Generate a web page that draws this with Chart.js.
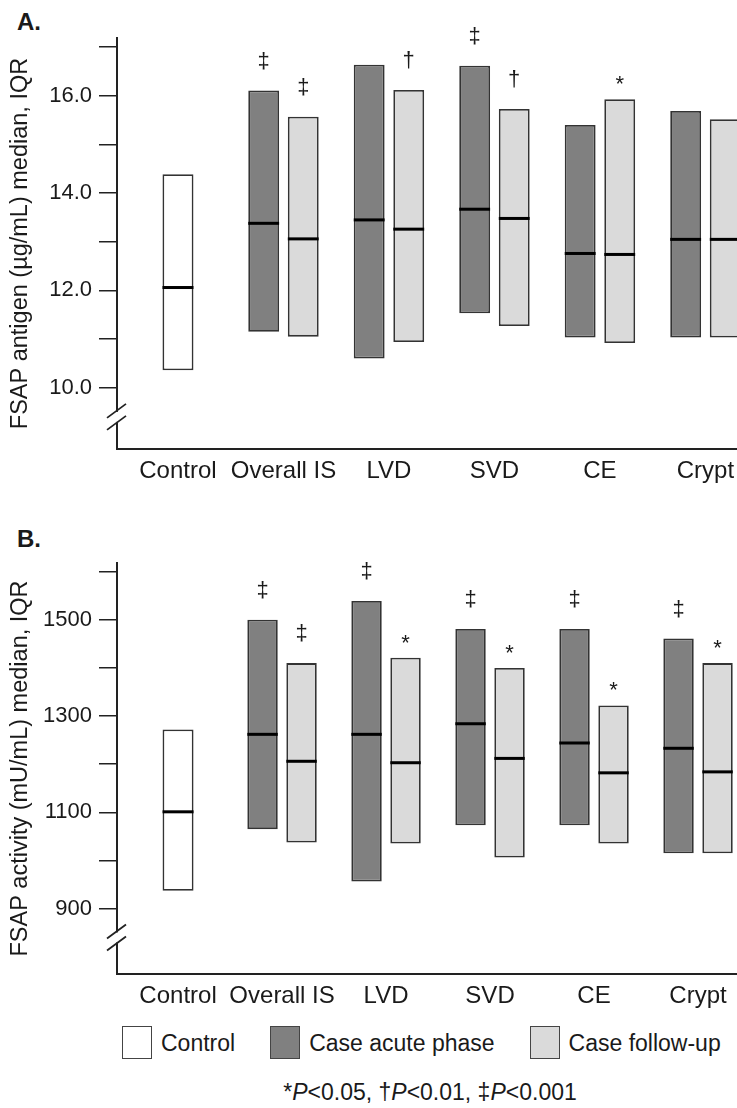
<!DOCTYPE html>
<html>
<head>
<meta charset="utf-8">
<title>FSAP antigen and activity</title>
<script src="https://cdn.jsdelivr.net/npm/chart.js@4.4.1/dist/chart.umd.min.js"></script>
<style>
  html, body { margin: 0; padding: 0; background: #fff; }
  #page { position: relative; width: 737px; height: 1108px; overflow: hidden;
          font-family: "Liberation Sans", Arial, sans-serif; color: #1a1a1a; }
  /* canvases run a little past the right edge: the source figure is cropped there */
  .panel { position: absolute; left: 0; width: 770px; height: 500px; }
  .tag { position: absolute; left: 17px; font-weight: bold; font-size: 24px; line-height: 24px; }
  #legend { position: absolute; left: 122px; top: 1026px; display: flex; align-items: center;
            font-size: 23px; line-height: 32px; white-space: nowrap; width: 640px; }
  #legend .item { display: flex; align-items: center; margin-right: 35px; }
  #legend .box { width: 28px; height: 31px; border: 1.5px solid #444; margin-right: 9px; }
  #note { position: absolute; left: 120px; width: 620px; top: 1081px; text-align: center;
          font-size: 23px; line-height: 23px; white-space: nowrap; }
</style>
</head>
<body>
<div id="page">
  <div class="tag" style="top:10px">A.</div>
  <div class="panel" style="top:0"><canvas id="chartA"></canvas></div>
  <div class="tag" style="top:527px">B.</div>
  <div class="panel" style="top:525px"><canvas id="chartB"></canvas></div>
  <div id="legend"></div>
  <div id="note">*<i>P</i>&lt;0.05, †<i>P</i>&lt;0.01, ‡<i>P</i>&lt;0.001</div>
</div>
<script>
const categories = ['Control', 'Overall IS', 'LVD', 'SVD', 'CE', 'Crypt'];
const seriesNames = ['Control', 'Case acute phase', 'Case follow-up'];
const seriesColors = ['#ffffff', '#808080', '#dadada'];

// A. FSAP antigen (µg/mL): 25th pct, median, 75th pct per category
const antigenControlQ1  = [10.36, null, null, null, null, null];
const antigenControlMed = [12.06, null, null, null, null, null];
const antigenControlQ3  = [14.39, null, null, null, null, null];
const antigenAcuteQ1    = [null, 11.15, 10.60, 11.53, 11.03, 11.03];
const antigenAcuteMed   = [null, 13.38, 13.45, 13.67, 12.76, 13.05];
const antigenAcuteQ3    = [null, 16.11, 16.64, 16.62, 15.40, 15.69];
const antigenFollowQ1   = [null, 11.05, 10.94, 11.27, 10.92, 11.03];
const antigenFollowMed  = [null, 13.06, 13.26, 13.48, 12.74, 13.05];
const antigenFollowQ3   = [null, 15.57, 16.12, 15.73, 15.93, 15.52];
const antigenAcuteSig   = ['', '‡', '', '‡', '', ''];
const antigenFollowSig  = ['', '‡', '†', '†', '*', ''];
const antigenTicks      = [10, 11, 12, 13, 14, 15, 16, 17];
const antigenTickLabels = ['10.0', '', '12.0', '', '14.0', '', '16.0', ''];

// B. FSAP activity (mU/mL)
const activityControlQ1  = [937, null, null, null, null, null];
const activityControlMed = [1101, null, null, null, null, null];
const activityControlQ3  = [1272, null, null, null, null, null];
const activityAcuteQ1    = [null, 1065, 956, 1073, 1073, 1015];
const activityAcuteMed   = [null, 1262, 1262, 1284, 1244, 1233];
const activityAcuteQ3    = [null, 1500, 1539, 1481, 1481, 1461];
const activityFollowQ1   = [null, 1037, 1035, 1006, 1035, 1015];
const activityFollowMed  = [null, 1206, 1203, 1212, 1182, 1184];
const activityFollowQ3   = [null, 1410, 1421, 1400, 1322, 1410];
const activityAcuteSig   = ['', '‡', '‡', '‡', '‡', '‡'];
const activityFollowSig  = ['', '‡', '*', '*', '*', '*'];
const activityTicks      = [900, 1000, 1100, 1200, 1300, 1400, 1500, 1600];
const activityTickLabels = ['900', '', '1100', '', '1300', '', '1500', ''];

Chart.defaults.font.family = '"Liberation Sans", Arial, sans-serif';
Chart.defaults.color = '#1a1a1a';

function makeSet(idx, q1, med, q3, sig) {
    return {
        label: seriesNames[idx],
        data: categories.map((c, i) => ({ x: i, y: q1[i] === null ? null : [q1[i], q3[i]] })),
        medians: med,
        tops: q3,
        marks: sig,
        backgroundColor: seriesColors[idx],
        borderColor: '#333',
        borderWidth: 1.8,
        borderSkipped: false,
        skipNull: true,
        categoryPercentage: 0.75,
        barPercentage: 0.78,
        maxBarThickness: 31
    };
}

// median bars + significance symbols above the boxes
const boxExtras = {
    id: 'boxExtras',
    afterDatasetsDraw(chart) {
        const ctx = chart.ctx;
        const y = chart.scales.y;
        ctx.save();
        chart.data.datasets.forEach((ds, d) => {
            const meta = chart.getDatasetMeta(d);
            meta.data.forEach((el, i) => {
                if (ds.medians[i] === null) return;
                const ym = y.getPixelForValue(ds.medians[i]);
                ctx.fillStyle = '#000';
                ctx.fillRect(el.x - el.width / 2, ym - 1.5, el.width, 3);
                const m = ds.marks[i];
                if (!m) return;
                const top = y.getPixelForValue(ds.tops[i]);
                ctx.textAlign = 'center';
                ctx.textBaseline = 'alphabetic';
                ctx.fillStyle = '#1a1a1a';
                ctx.font = '22px "Liberation Sans", Arial, sans-serif';
                ctx.fillText(m, el.x, top - (m === '*' ? 8 : 23));
            });
        });
        ctx.restore();
    }
};

// the "//" break on the y axis
const axisBreak = {
    id: 'axisBreak',
    afterDraw(chart, args, opts) {
        if (opts.value === undefined) return;
        const ctx = chart.ctx;
        const yb = chart.scales.y.getPixelForValue(opts.value);
        const x0 = chart.chartArea.left;
        ctx.save();
        ctx.fillStyle = '#fff';
        ctx.fillRect(x0 - 3, yb - 5, 6, 10);
        ctx.strokeStyle = '#222';
        ctx.lineWidth = 1.8;
        ctx.beginPath();
        [-6, 6].forEach(dy => {
            ctx.moveTo(x0 - 10, yb + dy + 7);
            ctx.lineTo(x0 + 9, yb + dy - 7);
        });
        ctx.stroke();
        ctx.restore();
    }
};

function drawPanel(canvasId, sets, yRange, ticks, tickLabels, yTitle, xRange, breakValue) {
    const canvas = document.getElementById(canvasId);
    return new Chart(canvas, {
        type: 'bar',
        data: { datasets: sets },
        plugins: [boxExtras, axisBreak],
        options: {
            responsive: true,
            maintainAspectRatio: false,
            animation: false,
            devicePixelRatio: 1,
            layout: { padding: { top: 38, left: 6, right: 0, bottom: 11 } },
            plugins: {
                legend: { display: false },
                tooltip: { enabled: false },
                axisBreak: { value: breakValue }
            },
            scales: {
                x: {
                    type: 'linear',
                    offset: false,
                    min: xRange[0],
                    max: xRange[1],
                    afterBuildTicks: s => { s.ticks = categories.map((c, i) => ({ value: i })); },
                    afterFit: s => { s.height = 40; },
                    ticks: {
                        callback: (v, i) => categories[i],
                        autoSkip: false,
                        maxRotation: 0,
                        font: { size: 24 },
                        padding: 8
                    },
                    grid: { display: false, drawTicks: false },
                    border: { color: '#222', width: 2 }
                },
                y: {
                    min: yRange[0],
                    max: yRange[1],
                    afterBuildTicks: s => { s.ticks = ticks.map(v => ({ value: v })); },
                    afterFit: s => { s.width = 111; },
                    ticks: {
                        callback: (v, i) => tickLabels[i],
                        font: { size: 22 },
                        padding: 7
                    },
                    grid: { drawOnChartArea: false, drawTicks: true, tickLength: 18, color: '#222', lineWidth: 1.5 },
                    border: { color: '#222', width: 2 },
                    title: { display: true, text: yTitle, font: { size: 23.5 }, padding: { top: 0, bottom: 4 } }
                }
            }
        }
    });
}

drawPanel('chartA', [
    makeSet(0, antigenControlQ1, antigenControlMed, antigenControlQ3, ['', '', '', '', '', '']),
    makeSet(1, antigenAcuteQ1, antigenAcuteMed, antigenAcuteQ3, antigenAcuteSig),
    makeSet(2, antigenFollowQ1, antigenFollowMed, antigenFollowQ3, antigenFollowSig)
], [8.74, 17.19], antigenTicks, antigenTickLabels, 'FSAP antigen (µg/mL) median, IQR', [-0.578, 5.612], 9.4);

drawPanel('chartB', [
    makeSet(0, activityControlQ1, activityControlMed, activityControlQ3, ['', '', '', '', '', '']),
    makeSet(1, activityAcuteQ1, activityAcuteMed, activityAcuteQ3, activityAcuteSig),
    makeSet(2, activityFollowQ1, activityFollowMed, activityFollowQ3, activityFollowSig)
], [764, 1618], activityTicks, activityTickLabels, 'FSAP activity (mU/mL) median, IQR', [-0.587, 5.692], 840);

// legend row under panel B
const legend = document.getElementById('legend');
seriesNames.forEach((name, i) => {
    const item = document.createElement('div');
    item.className = 'item';
    item.innerHTML = '<div class="box" style="background:' + seriesColors[i] + '"></div><span>' + name + '</span>';
    legend.appendChild(item);
});
</script>
</body>
</html>
